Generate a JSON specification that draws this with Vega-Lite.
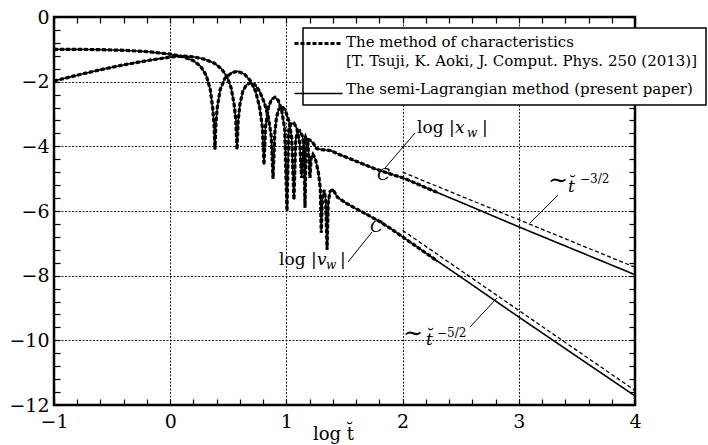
{
  "$schema": "https://vega.github.io/schema/vega-lite/v6.json",
  "width": 581,
  "height": 388,
  "autosize": {"type": "none"},
  "padding": {"left": 54, "top": 17, "right": 73, "bottom": 40},
  "background": "white",
  "config": {
    "view": {"stroke": "black", "strokeWidth": 2.5},
    "axis": {
      "labelFont": "DejaVu Serif",
      "labelFontSize": 19,
      "labelColor": "black",
      "labelFlush": false,
      "titleFont": "DejaVu Serif",
      "titleFontSize": 18,
      "titleFontWeight": "normal",
      "titleColor": "black",
      "gridColor": "black",
      "gridDash": [2, 1.5],
      "gridWidth": 0.9,
      "gridOpacity": 1,
      "tickColor": "black",
      "tickWidth": 1.2,
      "domainColor": "black"
    }
  },
  "datasets": {
    "curves": [
      {"s": "x", "x": -1, "y": -1.98}, {"s": "x", "x": -0.8, "y": -1.8}, {"s": "x", "x": -0.6, "y": -1.63}, {"s": "x", "x": -0.4, "y": -1.48}, {"s": "x", "x": -0.2, "y": -1.35}, {"s": "x", "x": 0, "y": -1.24}, {"s": "x", "x": 0.1, "y": -1.21}, {"s": "x", "x": 0.2, "y": -1.23}, {"s": "x", "x": 0.3, "y": -1.31}, {"s": "x", "x": 0.38, "y": -1.43}, {"s": "x", "x": 0.44, "y": -1.6}, {"s": "x", "x": 0.49, "y": -1.85}, {"s": "x", "x": 0.525, "y": -2.2}, {"s": "x", "x": 0.55, "y": -2.7}, {"s": "x", "x": 0.565, "y": -3.2}, {"s": "x", "x": 0.575, "y": -4.1}, {"s": "x", "x": 0.585, "y": -3.2}, {"s": "x", "x": 0.6, "y": -2.7}, {"s": "x", "x": 0.625, "y": -2.3}, {"s": "x", "x": 0.655, "y": -2.1}, {"s": "x", "x": 0.69, "y": -2.03}, {"s": "x", "x": 0.73, "y": -2.1}, {"s": "x", "x": 0.77, "y": -2.3}, {"s": "x", "x": 0.81, "y": -2.65}, {"s": "x", "x": 0.845, "y": -3.1}, {"s": "x", "x": 0.87, "y": -3.7}, {"s": "x", "x": 0.885, "y": -5.0}, {"s": "x", "x": 0.9, "y": -3.6}, {"s": "x", "x": 0.915, "y": -3.1}, {"s": "x", "x": 0.935, "y": -2.85}, {"s": "x", "x": 0.962, "y": -2.77}, {"s": "x", "x": 0.99, "y": -2.88}, {"s": "x", "x": 1.02, "y": -3.2}, {"s": "x", "x": 1.045, "y": -3.7}, {"s": "x", "x": 1.065, "y": -5.65}, {"s": "x", "x": 1.08, "y": -3.8}, {"s": "x", "x": 1.095, "y": -3.55}, {"s": "x", "x": 1.115, "y": -3.52}, {"s": "x", "x": 1.14, "y": -3.7}, {"s": "x", "x": 1.152, "y": -4.1}, {"s": "x", "x": 1.16, "y": -5.9}, {"s": "x", "x": 1.168, "y": -4.1}, {"s": "x", "x": 1.18, "y": -3.78}, {"s": "x", "x": 1.2, "y": -3.8}, {"s": "x", "x": 1.23, "y": -3.9}, {"s": "x", "x": 1.26, "y": -4.07}, {"s": "x", "x": 1.3, "y": -4.1}, {"s": "x", "x": 1.38, "y": -4.13}, {"s": "x", "x": 1.46, "y": -4.26}, {"s": "x", "x": 1.6, "y": -4.46}, {"s": "x", "x": 1.75, "y": -4.68}, {"s": "x", "x": 1.9, "y": -4.86}, {"s": "x", "x": 2.0, "y": -4.97}, {"s": "x", "x": 2.3, "y": -5.43}, {"s": "x", "x": 2.5, "y": -5.73}, {"s": "x", "x": 3.0, "y": -6.49}, {"s": "x", "x": 3.5, "y": -7.23}, {"s": "x", "x": 4.0, "y": -7.97},
      {"s": "v", "x": -1, "y": -1.0}, {"s": "v", "x": -0.8, "y": -1.0}, {"s": "v", "x": -0.6, "y": -1.01}, {"s": "v", "x": -0.4, "y": -1.03}, {"s": "v", "x": -0.2, "y": -1.07}, {"s": "v", "x": 0, "y": -1.15}, {"s": "v", "x": 0.1, "y": -1.22}, {"s": "v", "x": 0.2, "y": -1.35}, {"s": "v", "x": 0.26, "y": -1.52}, {"s": "v", "x": 0.31, "y": -1.8}, {"s": "v", "x": 0.345, "y": -2.25}, {"s": "v", "x": 0.365, "y": -2.8}, {"s": "v", "x": 0.377, "y": -3.3}, {"s": "v", "x": 0.385, "y": -4.1}, {"s": "v", "x": 0.393, "y": -3.3}, {"s": "v", "x": 0.405, "y": -2.8}, {"s": "v", "x": 0.43, "y": -2.25}, {"s": "v", "x": 0.47, "y": -1.9}, {"s": "v", "x": 0.53, "y": -1.72}, {"s": "v", "x": 0.583, "y": -1.68}, {"s": "v", "x": 0.64, "y": -1.77}, {"s": "v", "x": 0.69, "y": -1.97}, {"s": "v", "x": 0.735, "y": -2.3}, {"s": "v", "x": 0.77, "y": -2.8}, {"s": "v", "x": 0.793, "y": -3.4}, {"s": "v", "x": 0.807, "y": -4.57}, {"s": "v", "x": 0.82, "y": -3.4}, {"s": "v", "x": 0.845, "y": -2.8}, {"s": "v", "x": 0.872, "y": -2.55}, {"s": "v", "x": 0.902, "y": -2.48}, {"s": "v", "x": 0.93, "y": -2.58}, {"s": "v", "x": 0.96, "y": -2.9}, {"s": "v", "x": 0.985, "y": -3.45}, {"s": "v", "x": 1.005, "y": -6.0}, {"s": "v", "x": 1.02, "y": -3.5}, {"s": "v", "x": 1.04, "y": -3.3}, {"s": "v", "x": 1.065, "y": -3.28}, {"s": "v", "x": 1.09, "y": -3.45}, {"s": "v", "x": 1.115, "y": -3.9}, {"s": "v", "x": 1.131, "y": -4.98}, {"s": "v", "x": 1.145, "y": -4.0}, {"s": "v", "x": 1.165, "y": -3.72}, {"s": "v", "x": 1.185, "y": -3.9}, {"s": "v", "x": 1.203, "y": -4.98}, {"s": "v", "x": 1.213, "y": -4.35}, {"s": "v", "x": 1.228, "y": -4.25}, {"s": "v", "x": 1.25, "y": -4.4}, {"s": "v", "x": 1.275, "y": -4.8}, {"s": "v", "x": 1.292, "y": -5.3}, {"s": "v", "x": 1.3, "y": -6.67}, {"s": "v", "x": 1.31, "y": -5.6}, {"s": "v", "x": 1.325, "y": -5.35}, {"s": "v", "x": 1.338, "y": -5.65}, {"s": "v", "x": 1.35, "y": -7.2}, {"s": "v", "x": 1.36, "y": -5.75}, {"s": "v", "x": 1.375, "y": -5.4}, {"s": "v", "x": 1.4, "y": -5.33}, {"s": "v", "x": 1.44, "y": -5.58}, {"s": "v", "x": 1.52, "y": -5.77}, {"s": "v", "x": 1.6, "y": -5.93}, {"s": "v", "x": 1.7, "y": -6.12}, {"s": "v", "x": 1.8, "y": -6.32}, {"s": "v", "x": 1.9, "y": -6.55}, {"s": "v", "x": 2.0, "y": -6.8}, {"s": "v", "x": 2.3, "y": -7.55}, {"s": "v", "x": 2.5, "y": -8.04}, {"s": "v", "x": 3.0, "y": -9.28}, {"s": "v", "x": 3.5, "y": -10.5}, {"s": "v", "x": 4.0, "y": -11.72}
    ],
    "ref": [
      {"s": "x", "x": 2, "y": -4.8}, {"s": "x", "x": 4, "y": -7.74},
      {"s": "v", "x": 2, "y": -6.6}, {"s": "v", "x": 4, "y": -11.55}
    ],
    "leaders": [
      {"x": 2.107, "y": -3.588, "x2": 1.849, "y2": -4.671},
      {"x": 1.53, "y": -7.578, "x2": 1.737, "y2": -6.65},
      {"x": 3.337, "y": -5.506, "x2": 3.096, "y2": -6.372},
      {"x": 2.58, "y": -9.589, "x2": 2.812, "y2": -8.692}
    ],
    "upright": [
      {"t": "log |", "x": 2.124, "y": -3.588},
      {"t": "|", "x": 2.683, "y": -3.588},
      {"t": "log |", "x": 0.936, "y": -7.671},
      {"t": "|", "x": 1.461, "y": -7.671}
    ],
    "tilde": [
      {"t": "∼", "x": 3.251, "y": -5.3},
      {"t": "∼", "x": 2.003, "y": -10.03}
    ],
    "italic": [
      {"t": "x", "x": 2.451, "y": -3.588},
      {"t": "v", "x": 1.263, "y": -7.671},
      {"t": "t̆", "x": 3.423, "y": -5.413},
      {"t": "t̆", "x": 2.201, "y": -10.145},
      {"t": "C", "x": 1.78, "y": -5.04},
      {"t": "C", "x": 1.719, "y": -6.65}
    ],
    "sub": [
      {"t": "w", "x": 2.554, "y": -3.71},
      {"t": "w", "x": 1.341, "y": -7.795}
    ],
    "sup": [
      {"t": "−3/2", "x": 3.527, "y": -5.135},
      {"t": "−5/2", "x": 2.296, "y": -9.898}
    ]
  },
  "resolve": {"axis": {"x": "independent", "y": "independent"}},
  "layer": [
    {
      "data": {"name": "curves"},
      "mark": {"type": "line", "strokeWidth": 1.6, "color": "black"},
      "encoding": {
        "x": {"field": "x", "type": "quantitative",
          "scale": {"domain": [-1, 4], "nice": false, "zero": false},
          "axis": {"orient": "top", "values": [-1, -0.8, -0.6, -0.4, -0.2, 0, 0.2, 0.4, 0.6, 0.8, 1, 1.2, 1.4, 1.6, 1.8, 2, 2.2, 2.4, 2.6, 2.8, 3, 3.2, 3.4, 3.6, 3.8, 4],
            "grid": false, "labels": false, "domain": false, "tickSize": -6, "title": null}},
        "y": {"field": "y", "type": "quantitative",
          "scale": {"domain": [-12, 0], "nice": false, "zero": false},
          "axis": {"orient": "right", "values": [-12, -11.6, -11.2, -10.8, -10.4, -10, -9.6, -9.2, -8.8, -8.4, -8, -7.6, -7.2, -6.8, -6.4, -6, -5.6, -5.2, -4.8, -4.4, -4, -3.6, -3.2, -2.8, -2.4, -2, -1.6, -1.2, -0.8, -0.4, 0],
            "grid": false, "labels": false, "domain": false, "tickSize": -6, "title": null}},
        "detail": {"field": "s"},
        "strokeDash": {"datum": "sl", "type": "nominal",
          "scale": {"domain": ["moc", "sl"], "range": [[4, 2], [1, 0]]},
          "legend": {
            "orient": "none", "legendX": 249, "legendY": 11, "title": null,
            "symbolType": "stroke", "symbolSize": 2304, "symbolStrokeColor": "black",
            "labelFont": "DejaVu Serif", "labelFontSize": 15, "labelColor": "black",
            "labelBaseline": "alphabetic", "labelLimit": 600, "labelOffset": 20,
            "rowPadding": 12, "padding": 8, "strokeColor": "black", "fillColor": "white",
            "labelExpr": "datum.value == 'moc' ? ['The method of characteristics', '[T. Tsuji, K. Aoki, J. Comput. Phys. 250 (2013)]'] : 'The semi-Lagrangian method (present paper)'",
            "encode": {
              "symbols": {"update": {"strokeWidth": {"signal": "datum.value == 'moc' ? 3 : 1.5"}}},
              "labels": {"update": {"lineHeight": {"value": 19}, "dy": {"signal": "datum.value == 'moc' ? 3 : 0"}}},
              "legend": {"update": {"strokeWidth": {"value": 1.5}}}
            }
          }}
      }
    },
    {
      "data": {"name": "curves"},
      "transform": [{"filter": "datum.x <= 2.3"}],
      "mark": {"type": "line", "strokeWidth": 3.2, "color": "black"},
      "encoding": {
        "x": {"field": "x", "type": "quantitative",
          "axis": {"orient": "bottom", "values": [-1, 0, 1, 2, 3, 4], "grid": true, "ticks": false, "domain": false,
            "labelFont": "DejaVu Serif", "labelFontSize": 19, "labelFlush": false,
            "labelPadding": 7, "title": "log t̆", "titleX": 279, "titleY": 34, "titleBaseline": "alphabetic"}},
        "y": {"field": "y", "type": "quantitative",
          "axis": {"orient": "left", "values": [-12, -10, -8, -6, -4, -2, 0], "grid": true, "ticks": false, "domain": false,
            "labelFont": "DejaVu Serif", "labelFontSize": 19, "labelFlush": false,
            "labelPadding": 5, "title": null}},
        "detail": {"field": "s"},
        "strokeDash": {"datum": "moc", "type": "nominal"}
      }
    },
    {
      "data": {"name": "ref"},
      "mark": {"type": "line", "strokeWidth": 1.3, "color": "black", "strokeDash": [4, 2.5]},
      "encoding": {
        "x": {"field": "x", "type": "quantitative",
          "axis": {"orient": "bottom", "values": [-1, -0.8, -0.6, -0.4, -0.2, 0, 0.2, 0.4, 0.6, 0.8, 1, 1.2, 1.4, 1.6, 1.8, 2, 2.2, 2.4, 2.6, 2.8, 3, 3.2, 3.4, 3.6, 3.8, 4],
            "grid": false, "labels": false, "domain": false, "tickSize": -6, "title": null}},
        "y": {"field": "y", "type": "quantitative",
          "axis": {"orient": "left", "values": [-12, -11.6, -11.2, -10.8, -10.4, -10, -9.6, -9.2, -8.8, -8.4, -8, -7.6, -7.2, -6.8, -6.4, -6, -5.6, -5.2, -4.8, -4.4, -4, -3.6, -3.2, -2.8, -2.4, -2, -1.6, -1.2, -0.8, -0.4, 0],
            "grid": false, "labels": false, "domain": false, "tickSize": -6, "title": null}},
        "detail": {"field": "s"}
      }
    },
    {
      "data": {"name": "leaders"},
      "mark": {"type": "rule", "strokeWidth": 1, "color": "black"},
      "encoding": {
        "x": {"field": "x", "type": "quantitative", "axis": null},
        "y": {"field": "y", "type": "quantitative", "axis": null},
        "x2": {"field": "x2"},
        "y2": {"field": "y2"}
      }
    },
    {
      "data": {"name": "upright"},
      "mark": {"type": "text", "font": "DejaVu Serif", "fontSize": 17, "align": "left", "baseline": "alphabetic", "color": "black"},
      "encoding": {
        "x": {"field": "x", "type": "quantitative", "axis": null},
        "y": {"field": "y", "type": "quantitative", "axis": null},
        "text": {"field": "t"}
      }
    },
    {
      "data": {"name": "tilde"},
      "mark": {"type": "text", "font": "DejaVu Serif", "fontSize": 24, "align": "left", "baseline": "alphabetic", "color": "black"},
      "encoding": {
        "x": {"field": "x", "type": "quantitative", "axis": null},
        "y": {"field": "y", "type": "quantitative", "axis": null},
        "text": {"field": "t"}
      }
    },
    {
      "data": {"name": "italic"},
      "mark": {"type": "text", "font": "DejaVu Serif", "fontSize": 17, "fontStyle": "italic", "align": "left", "baseline": "alphabetic", "color": "black"},
      "encoding": {
        "x": {"field": "x", "type": "quantitative", "axis": null},
        "y": {"field": "y", "type": "quantitative", "axis": null},
        "text": {"field": "t"}
      }
    },
    {
      "data": {"name": "sub"},
      "mark": {"type": "text", "font": "DejaVu Serif", "fontSize": 12, "fontStyle": "italic", "align": "left", "baseline": "alphabetic", "color": "black"},
      "encoding": {
        "x": {"field": "x", "type": "quantitative", "axis": null},
        "y": {"field": "y", "type": "quantitative", "axis": null},
        "text": {"field": "t"}
      }
    },
    {
      "data": {"name": "sup"},
      "mark": {"type": "text", "font": "DejaVu Serif", "fontSize": 12, "align": "left", "baseline": "alphabetic", "color": "black"},
      "encoding": {
        "x": {"field": "x", "type": "quantitative", "axis": null},
        "y": {"field": "y", "type": "quantitative", "axis": null},
        "text": {"field": "t"}
      }
    }
  ]
}
